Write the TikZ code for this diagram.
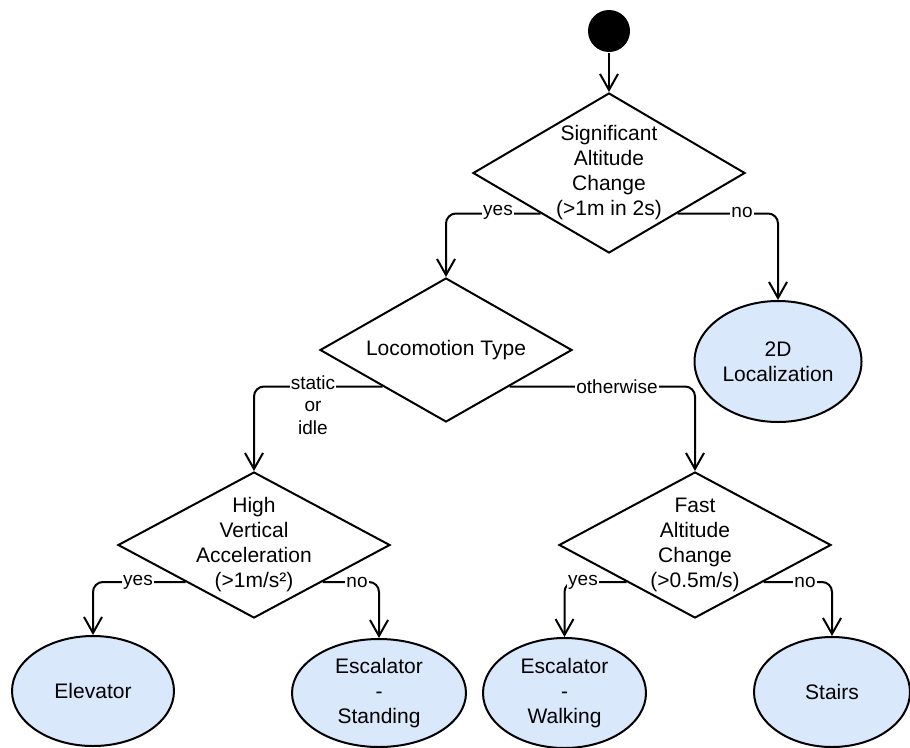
\documentclass[tikz,border=0pt]{standalone}
\usepackage{fontspec}
\setmainfont{Liberation Sans}
\usetikzlibrary{shapes.geometric,arrows.meta}
\definecolor{ellfill}{HTML}{DAE8FC}
\newcommand{\nfont}{\fontsize{21}{25}\selectfont}
\newcommand{\lfont}{\fontsize{19}{22.5}\selectfont}
\begin{document}
\begin{tikzpicture}[x=1pt,y=-1pt,
  line width=2pt,
  decision/.style={diamond,draw,inner sep=0pt,line join=miter},
  outcome/.style={ellipse,draw,fill=ellfill,inner sep=0pt,align=center,font=\nfont},
  flow/.style={-{Straight Barb[length=16pt,width=18pt]},rounded corners=10pt},
  elabel/.style={fill=white,inner sep=1pt,font=\lfont,align=center}
]
\useasboundingbox (0,0) rectangle (910,747);

\node[circle,fill=black,minimum size=42pt,inner sep=0pt] (start) at (609,31) {};

\node[decision,minimum width=272pt,minimum height=160pt,
  label={[align=center,font=\nfont]center:Significant\\Altitude\\Change\\(>1m in 2s)}] (d1) at (609,173) {};
\node[decision,minimum width=252pt,minimum height=144pt,
  label={[align=center,font=\nfont]center:Locomotion Type}] (d2) at (446,350) {};
\node[decision,minimum width=272pt,minimum height=146pt,
  label={[align=center,font=\nfont]center:High\\Vertical\\Acceleration\\(>1m/s²)}] (d3) at (254,545) {};
\node[decision,minimum width=272pt,minimum height=146pt,
  label={[align=center,font=\nfont]center:Fast\\Altitude\\Change\\(>0.5m/s)}] (d4) at (695,545) {};

\node[outcome,minimum width=167pt,minimum height=121pt] (loc) at (778,361.5) {2D\\Localization};
\node[outcome,minimum width=162pt,minimum height=110pt] (elev) at (93,691) {Elevator};
\node[outcome,minimum width=174pt,minimum height=108pt] (escs) at (379,693) {Escalator\\-\\Standing};
\node[outcome,minimum width=163pt,minimum height=110pt] (escw) at (564.5,693) {Escalator\\-\\Walking};
\node[outcome,minimum width=156pt,minimum height=110pt] (stairs) at (832,692) {Stairs};

\draw[flow] (start) -- (d1.north);
\draw[flow] (d1.south west) -| (d2.north);
\draw[flow] (d1.south east) -| (loc.north);
\draw[flow] (d2.south west) -| (d3.north);
\draw[flow] (d2.south east) -| (d4.north);
\draw[flow] (d3.south west) -| (elev.north);
\draw[flow] (d3.south east) -| (escs.north);
\draw[flow] (d4.south west) -| (escw.north);
\draw[flow] (d4.south east) -| (stairs.north);

\node[elabel] (lyes1) at (498,212) {yes};
\node[elabel] (lno1) at (742,212) {no};
\node[elabel] (lstatic) at (313,405) {static\\or\\idle};
\node[elabel] (lother) at (617,387) {otherwise};
\node[elabel] (lyes3) at (138,582) {yes};
\node[elabel] (lno3) at (357,582) {no};
\node[elabel] (lyes4) at (583,582) {yes};
\node[elabel] (lno4) at (805,582) {no};
\end{tikzpicture}
\end{document}
